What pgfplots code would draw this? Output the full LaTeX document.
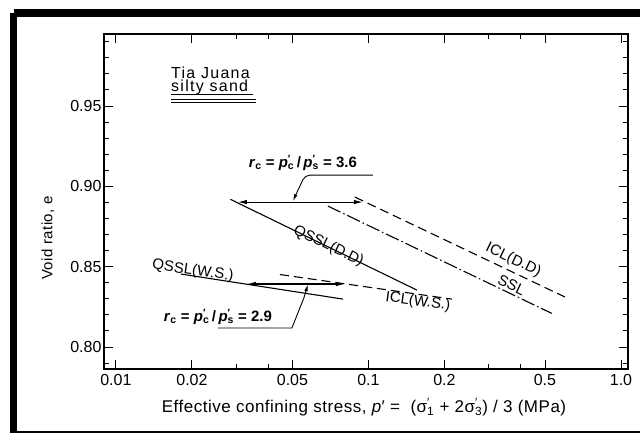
\documentclass[border=0pt]{standalone}
\usepackage{pgfplots}
\pgfplotsset{compat=1.18}
\usepackage{fontspec}
\setmainfont{Liberation Sans}
\usetikzlibrary{arrows.meta}

% primed stress symbol with a subscript set under the prime
\newcommand{\pc}[2]{\textit{#1}\rlap{\textsuperscript{′}}\textsubscript{#2}}
\newcommand{\lab}{\fontsize{15}{17}\selectfont}
\newcommand{\ttl}{\fontsize{17}{19}\selectfont\addfontfeature{LetterSpace=3}}

\begin{document}
\begin{tikzpicture}[x=1pt,y=1pt]
\useasboundingbox (0,0) rectangle (640,-433);
\fill[white] (0,0) rectangle (640,-433);

% frame round the figure
\begin{scope}
  \clip (0,0) rectangle (640,-433);
  \draw[line width=7.5pt] (13.5,-13) -- (700,-13);
  \draw[line width=7.5pt] (13.5,-13) -- (13.5,-450);
  \draw[line width=7.5pt] (13.5,-434.5) -- (700,-434.5);
\end{scope}

\begin{axis}[
  at={(104pt,-34pt)}, anchor=north west,
  scale only axis, width=524pt, height=335pt,
  xmode=log, xmin=0.00897, xmax=1.066,
  ymin=0.7863, ymax=0.9948,
  xtick={0.01,0.02,0.05,0.1,0.2,0.5,1},
  xticklabels={0.01,0.02,0.05,0.1,0.2,0.5,1.0},
  minor xtick={0.03,0.04,0.3,0.4},
  ytick={0.80,0.85,0.90,0.95},
  yticklabels={0.80,0.85,0.90,0.95},
  minor ytick={0.79,0.81,0.82,0.83,0.84,0.86,0.87,0.88,0.89,0.91,0.92,0.93,0.94,0.96,0.97,0.98,0.99},
  tick align=inside,
  major tick length=9pt, minor tick length=5pt,
  tick style={black, line width=0.9pt},
  axis line style={line width=1.1pt},
  ticklabel style={font=\fontsize{16}{18}\selectfont},
  xticklabel style={yshift=-2pt},
  yticklabel style={xshift=1pt},
  clip=false,
]
% initial compression lines, steady state line and quasi steady state lines
\addplot[black, line width=1.1pt] coordinates {(0.0284,0.8919) (0.1556,0.8354)};
\addplot[black, line width=1.1pt, dash pattern=on 9pt off 5pt] coordinates {(0.0884,0.8933) (0.600,0.8311)};
\addplot[black, line width=1.1pt, dash pattern=on 14pt off 3pt on 1.5pt off 3pt] coordinates {(0.0691,0.8877) (0.532,0.8209)};
\addplot[black, line width=1.1pt] coordinates {(0.01809,0.8454) (0.0793,0.8298)};
\addplot[black, line width=1.1pt, dash pattern=on 9pt off 5pt] coordinates {(0.04461,0.8451) (0.2142,0.8298)};

% stress ratio arrows
\addplot[black, line width=1.1pt, {Latex[length=9pt,width=4.5pt]}-{Latex[length=9pt,width=4.5pt]}] coordinates {(0.0304,0.8902) (0.0951,0.8902)};
\addplot[black, line width=1.1pt, {Latex[length=9pt,width=4.5pt]}-{Latex[length=9pt,width=4.5pt]}] coordinates {(0.0330,0.8392) (0.0807,0.8392)};

% leaders to the arrows
\addplot[black, line width=0.9pt, rounded corners=5pt, -{Latex[length=7pt,width=3.5pt]}] coordinates {(0.1042,0.9070) (0.0561,0.9070) (0.0502,0.8908)};
\addplot[black, line width=0.9pt, -{Latex[length=7pt,width=3.5pt]}] coordinates {(0.02535,0.8118) (0.04976,0.8118) (0.0555,0.8305) (0.05759,0.8390)};

% line names
\node[font=\lab, rotate=-25.9] at (axis cs:0.0695,0.8628) {QSSL(D.D)};
\node[font=\lab, rotate=-25.5] at (axis cs:0.3746,0.8541) {ICL(D.D)};
\node[font=\lab, rotate=-25.7] at (axis cs:0.369,0.8385) {SSL};
\node[font=\lab, rotate=-8] at (axis cs:0.157,0.8281) {ICL(W.S.)};
\node[font=\lab, rotate=-8] at (axis cs:0.02018,0.8474) {QSSL(W.S.)};

% stress ratios
\node[font=\lab\bfseries] at (axis cs:0.0550,0.9145) {\textit{r}\textsubscript{c} = \pc{p}{c}\,/\,\pc{p}{s} = 3.6};
\node[font=\lab\bfseries] at (axis cs:0.02535,0.8188) {\textit{r}\textsubscript{c} = \pc{p}{c}\,/\,\pc{p}{s} = 2.9};
\end{axis}

% soil name
\node[font=\fontsize{16}{18}\selectfont\addfontfeature{LetterSpace=8}, anchor=west, inner sep=0pt] at (171,-72.5) {Tia Juana};
\node[font=\fontsize{16}{18}\selectfont\addfontfeature{LetterSpace=8}, anchor=west, inner sep=0pt] at (171,-87) {silty sand};
\draw[line width=0.7pt] (171,-94) -- (253,-94);
\draw[line width=0.7pt] (171,-99.5) -- (256,-99.5);
\draw[line width=1.3pt] (171,-102.5) -- (256,-102.5);

% axis titles
\node[font=\ttl] at (364,-407) {Effective confining stress, \textit{p}′ =\ \ (σ\rlap{\textsuperscript{′}}\textsubscript{1} + 2σ\rlap{\textsuperscript{′}}\textsubscript{3}) / 3 (MPa)};
\node[font=\fontsize{15}{17}\selectfont\addfontfeature{LetterSpace=3}, rotate=90] at (48,-238) {Void ratio, e};
\end{tikzpicture}
\end{document}
